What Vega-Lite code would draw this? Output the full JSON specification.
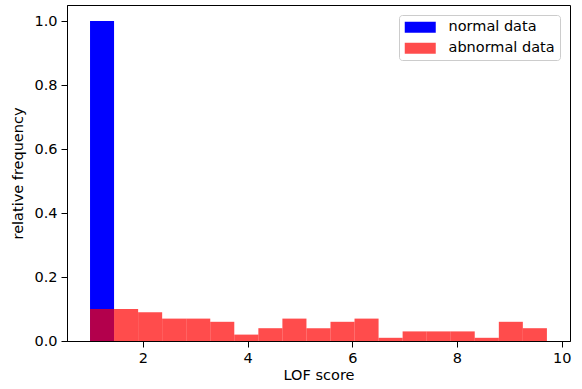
{
  "$schema": "https://vega.github.io/schema/vega-lite/v6.json",
  "width": 503,
  "height": 336,
  "autosize": {"type": "none"},
  "padding": {"left": 67, "top": 5, "right": 12, "bottom": 48},
  "background": "white",
  "config": {
    "font": "DejaVu Sans",
    "view": {"stroke": "black", "strokeWidth": 1},
    "axis": {
      "grid": false,
      "domainColor": "black",
      "tickColor": "black",
      "tickSize": 6,
      "labelFontSize": 14.5,
      "titleFontSize": 14.5,
      "labelColor": "black",
      "titleColor": "black",
      "titleFontWeight": "normal",
      "labelPadding": 4
    }
  },
  "data": {
    "values": [
      {"series": "normal data", "x0": 0.990, "x1": 1.449, "freq": 1.0},
      {"series": "abnormal data", "x0": 0.990, "x1": 1.449, "freq": 0.10},
      {"series": "abnormal data", "x0": 1.449, "x1": 1.909, "freq": 0.10},
      {"series": "abnormal data", "x0": 1.909, "x1": 2.368, "freq": 0.09},
      {"series": "abnormal data", "x0": 2.368, "x1": 2.828, "freq": 0.07},
      {"series": "abnormal data", "x0": 2.828, "x1": 3.287, "freq": 0.07},
      {"series": "abnormal data", "x0": 3.287, "x1": 3.746, "freq": 0.06},
      {"series": "abnormal data", "x0": 3.746, "x1": 4.206, "freq": 0.02},
      {"series": "abnormal data", "x0": 4.206, "x1": 4.665, "freq": 0.04},
      {"series": "abnormal data", "x0": 4.665, "x1": 5.125, "freq": 0.07},
      {"series": "abnormal data", "x0": 5.125, "x1": 5.584, "freq": 0.04},
      {"series": "abnormal data", "x0": 5.584, "x1": 6.043, "freq": 0.06},
      {"series": "abnormal data", "x0": 6.043, "x1": 6.503, "freq": 0.07},
      {"series": "abnormal data", "x0": 6.503, "x1": 6.962, "freq": 0.01},
      {"series": "abnormal data", "x0": 6.962, "x1": 7.422, "freq": 0.03},
      {"series": "abnormal data", "x0": 7.422, "x1": 7.881, "freq": 0.03},
      {"series": "abnormal data", "x0": 7.881, "x1": 8.340, "freq": 0.03},
      {"series": "abnormal data", "x0": 8.340, "x1": 8.800, "freq": 0.01},
      {"series": "abnormal data", "x0": 8.800, "x1": 9.259, "freq": 0.06},
      {"series": "abnormal data", "x0": 9.259, "x1": 9.719, "freq": 0.04}
    ]
  },
  "mark": {"type": "bar", "strokeWidth": 0},
  "encoding": {
    "x": {
      "field": "x0", "type": "quantitative",
      "scale": {"domain": [0.55, 10.16], "nice": false, "zero": false},
      "axis": {"values": [2, 4, 6, 8, 10], "title": "LOF score", "titlePadding": 4, "format": "d"}
    },
    "x2": {"field": "x1"},
    "y": {
      "field": "freq", "type": "quantitative",
      "scale": {"domain": [0, 1.05], "nice": false},
      "axis": {"values": [0, 0.2, 0.4, 0.6, 0.8, 1.0], "format": ".1f", "title": "relative frequency", "titlePadding": 8}
    },
    "y2": {"datum": 0},
    "color": {
      "field": "series", "type": "nominal",
      "scale": {"domain": ["normal data", "abnormal data"], "range": ["#0000ff", "#ff0000"]},
      "legend": {
        "title": null,
        "orient": "none",
        "legendX": 332,
        "legendY": 10,
        "fillColor": "rgba(255,255,255,0.8)",
        "strokeColor": "#cccccc",
        "cornerRadius": 3,
        "padding": 5,
        "symbolType": "M-2.385,-0.846H2.385V0.846H-2.385Z",
        "symbolSize": 169,
        "symbolOffset": 9,
        "symbolStrokeWidth": 0,
        "labelFontSize": 14.5,
        "labelColor": "black",
        "labelOffset": 21,
        "rowPadding": 6
      }
    },
    "opacity": {
      "field": "series", "type": "nominal",
      "scale": {"domain": ["normal data", "abnormal data"], "range": [1, 0.7]},
      "legend": null
    }
  }
}
